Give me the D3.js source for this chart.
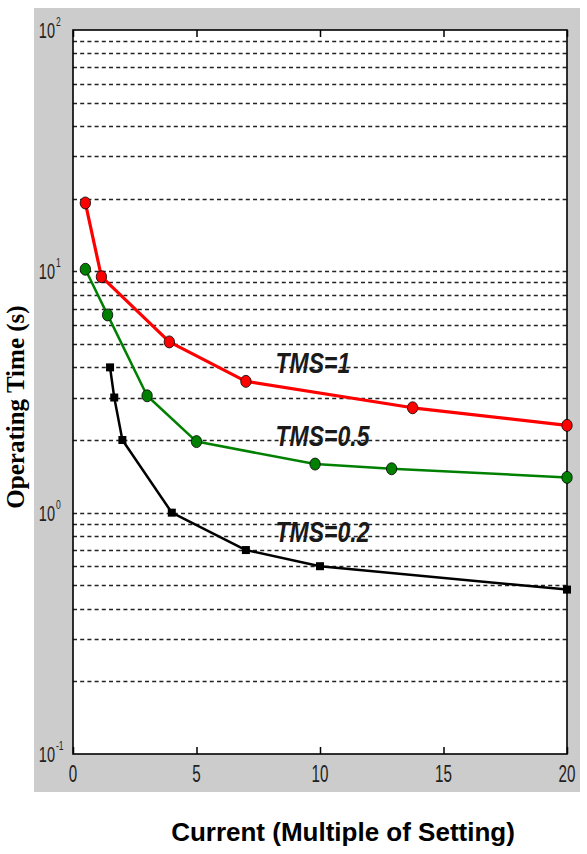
<!DOCTYPE html>
<html>
<head>
<meta charset="utf-8">
<script src="https://cdn.jsdelivr.net/npm/d3@7"></script>
<style>
  body { margin: 0; background: #fff; }
  svg { display: block; }
</style>
</head>
<body>
<svg id="chart" width="587" height="854"></svg>
<script>
const width = 587,
  height = 854;

// TMS = 1 (red circles)
const tms1X = [0.5, 1.15, 3.9, 7.0, 13.75, 20];
const tms1Y = [19.2, 9.5, 5.1, 3.5, 2.72, 2.3];
// TMS = 0.5 (green circles)
const tms05X = [0.5, 1.4, 3.0, 5.0, 9.8, 12.9, 20];
const tms05Y = [10.2, 6.6, 3.05, 1.97, 1.59, 1.52, 1.4];
// TMS = 0.2 (black squares)
const tms02X = [1.5, 1.67, 2.0, 4.0, 7.0, 10.0, 20];
const tms02Y = [4.0, 3.0, 2.0, 1.0, 0.7, 0.6, 0.48];

const xTicks = [0, 5, 10, 15, 20];
const yDecades = [0.1, 1, 10, 100];
const curveLabels = ["TMS=1", "TMS=0.5", "TMS=0.2"];
const labelX = [8.2, 8.2, 8.2];
const labelY = [3.79, 1.89, 0.755];

const svg = d3.select("#chart");

// plot box
const pLeft = 73,
  pRight = 567,
  pTop = 30,
  pBottom = 754;

const x = d3.scaleLinear().domain([0, 20]).range([pLeft, pRight]);
const y = d3.scaleLog().domain([0.1, 100]).range([pBottom, pTop]);

// grey figure background
svg.append("rect")
  .attr("x", 34).attr("y", 8)
  .attr("width", 546).attr("height", 784)
  .attr("fill", "#cccccc");

// white axes area
svg.append("rect")
  .attr("x", pLeft).attr("y", pTop)
  .attr("width", pRight - pLeft).attr("height", pBottom - pTop)
  .attr("fill", "#ffffff");

// dashed log grid
const gridVals = y.ticks().filter((v) => v > 0.1 && v < 100);
svg.append("g")
  .selectAll("line")
  .data(gridVals)
  .join("line")
  .attr("x1", pLeft).attr("x2", pRight)
  .attr("y1", (d) => Math.round(y(d)) + 0.5)
  .attr("y2", (d) => Math.round(y(d)) + 0.5)
  .attr("stroke", "#222")
  .attr("stroke-width", 1.7)
  .attr("stroke-dasharray", "4,3.2");

// x ticks, bottom and top, pointing inwards
const xAxis = svg.append("g")
  .attr("transform", `translate(0,${pBottom})`)
  .call(d3.axisBottom(x).tickValues(xTicks).tickSizeInner(-7).tickSizeOuter(0).tickFormat(""));
xAxis.select(".domain").remove();
xAxis.selectAll("line").attr("stroke", "#000").attr("stroke-width", 1.5);

const xTop = svg.append("g")
  .attr("transform", `translate(0,${pTop})`)
  .call(d3.axisTop(x).tickValues(xTicks).tickSizeInner(-7).tickSizeOuter(0).tickFormat(""));
xTop.select(".domain").remove();
xTop.selectAll("line").attr("stroke", "#000").attr("stroke-width", 1.5);

// axes box
svg.append("rect")
  .attr("x", pLeft).attr("y", pTop)
  .attr("width", pRight - pLeft).attr("height", pBottom - pTop)
  .attr("fill", "none")
  .attr("stroke", "#000")
  .attr("stroke-width", 1.6);

// x tick labels (narrow matlab-ish font)
svg.append("g")
  .selectAll("text")
  .data(xTicks)
  .join("text")
  .attr("transform", (d) => `translate(${x(d)},${pBottom + 28}) scale(0.66,1)`)
  .attr("text-anchor", "middle")
  .attr("font-family", "Liberation Sans, Arial, sans-serif")
  .attr("font-size", 23)
  .attr("fill", "#222")
  .text((d) => d);

// y decade labels 10^n
svg.append("g")
  .selectAll("text")
  .data(yDecades)
  .join("text")
  .attr("transform", (d) => `translate(55,${y(d) + 8}) scale(0.66,1)`)
  .attr("text-anchor", "end")
  .attr("font-family", "Liberation Sans, Arial, sans-serif")
  .attr("font-size", 22)
  .attr("fill", "#222")
  .text("10");
svg.append("g")
  .selectAll("text")
  .data(yDecades)
  .join("text")
  .attr("transform", (d) => `translate(56,${y(d) - 4}) scale(0.66,1)`)
  .attr("text-anchor", "start")
  .attr("font-family", "Liberation Sans, Arial, sans-serif")
  .attr("font-size", 13)
  .attr("fill", "#222")
  .text((d) => Math.round(Math.log10(d)));

// lines
const line = d3.line().x((d) => x(d[0])).y((d) => y(d[1]));
const series = [
  { xs: tms1X, ys: tms1Y, color: "#ff0000", w: 3.2, marker: "circle" },
  { xs: tms05X, ys: tms05Y, color: "#008000", w: 2.5, marker: "circle" },
  { xs: tms02X, ys: tms02Y, color: "#000000", w: 2.5, marker: "square" }
];

series.forEach((s) => {
  const pts = s.xs.map((v, i) => [v, s.ys[i]]);
  svg.append("path")
    .datum(pts)
    .attr("d", line)
    .attr("fill", "none")
    .attr("stroke", s.color)
    .attr("stroke-width", s.w)
    .attr("stroke-linejoin", "round");

  if (s.marker === "circle") {
    svg.append("g")
      .selectAll("ellipse")
      .data(pts)
      .join("ellipse")
      .attr("cx", (d) => x(d[0]))
      .attr("cy", (d) => y(d[1]))
      .attr("rx", 5.2)
      .attr("ry", 6)
      .attr("fill", s.color)
      .attr("stroke", "#000")
      .attr("stroke-width", 0.8);
  } else {
    svg.append("g")
      .selectAll("rect")
      .data(pts)
      .join("rect")
      .attr("x", (d) => x(d[0]) - 4)
      .attr("y", (d) => y(d[1]) - 4)
      .attr("width", 8)
      .attr("height", 8)
      .attr("fill", "#000");
  }
});

// curve labels
svg.append("g")
  .selectAll("text")
  .data(curveLabels)
  .join("text")
  .attr("transform", (d, i) => `translate(${x(labelX[i])},${y(labelY[i])}) scale(1,1.25)`)
  .attr("font-family", "Liberation Sans, Arial, sans-serif")
  .attr("font-weight", "bold")
  .attr("font-style", "italic")
  .attr("font-size", 23)
  .attr("fill", "#1a1a1a")
  .text((d) => d);

// axis titles
svg.append("text")
  .attr("transform", "translate(24,407) rotate(-90)")
  .attr("text-anchor", "middle")
  .attr("font-family", "Liberation Serif, Times New Roman, serif")
  .attr("font-weight", "bold")
  .attr("font-size", 25)
  .attr("fill", "#000")
  .text("Operating Time (s)");

svg.append("text")
  .attr("x", 343)
  .attr("y", 841)
  .attr("text-anchor", "middle")
  .attr("font-family", "Liberation Sans, Arial, sans-serif")
  .attr("font-weight", "bold")
  .attr("font-size", 26)
  .attr("fill", "#000")
  .text("Current (Multiple of Setting)");
</script>
</body>
</html>
